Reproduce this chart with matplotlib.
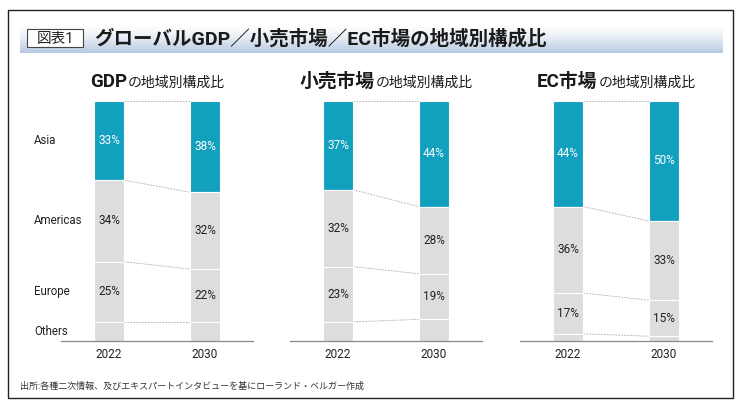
import numpy as np
import matplotlib.pyplot as plt
from matplotlib.patches import Rectangle

plt.rcParams['font.family'] = ['Roboto', 'Noto Sans CJK JP', 'DejaVu Sans']

W, H = 740, 407

regions = ["Asia", "Americas", "Europe", "Others"]
years = ["2022", "2030"]
panel_heads = ["GDP", "小売市場", "EC市場"]
panel_tail = "の地域別構成比"
# share by region, [2022, 2030]
gdp = {"Asia": [33, 38], "Americas": [34, 32], "Europe": [25, 22], "Others": [8, 8]}
retail = {"Asia": [37, 44], "Americas": [32, 28], "Europe": [23, 19], "Others": [8, 9]}
ec = {"Asia": [44, 50], "Americas": [36, 33], "Europe": [17, 15], "Others": [3, 2]}
panels = [gdp, retail, ec]

title = "グローバルGDP／小売市場／EC市場の地域別構成比"
fig_no = "図表1"
source = "出所:各種二次情報、及びエキスパートインタビューを基にローランド・ベルガー作成"

teal = "#12a0bf"
grey = "#dcdddf"

fig = plt.figure(figsize=(W / 100, H / 100), dpi=100)
fig.patch.set_facecolor("white")

# outer frame
frame = fig.add_axes([0, 0, 1, 1])
frame.set_xlim(0, W)
frame.set_ylim(H, 0)
frame.axis("off")
frame.add_patch(Rectangle((8, 10), 725, 388, fill=False, ec="#222222", lw=1.0))
# gradient title band
grad = np.linspace(0, 1, 50).reshape(-1, 1)
c0 = np.array([1.0, 1.0, 1.0])
c1 = np.array([0.72, 0.79, 0.88])
img = c0 + (c1 - c0) * grad[..., None] ** 1.3
frame.imshow(img, extent=(20, 723, 53, 25), aspect="auto", zorder=1)
frame.add_patch(Rectangle((27, 29), 56, 18, fc="white", ec="#444444", lw=0.8, zorder=2))
frame.text(55, 38.5, fig_no, ha="center", va="center", fontsize=10.5, color="#222222", zorder=3)
frame.text(94, 38.5, title, ha="left", va="center", fontsize=14, fontweight="bold",
           color="#1a1a1a", zorder=3)
frame.text(20, 386, source, ha="left", va="center", fontsize=6.5, color="#333333")

axes_left = [61, 290, 520]
bar_w = 0.32
for k, data in enumerate(panels):
    l = axes_left[k]
    ax = fig.add_axes([l / W, (H - 341) / H, 192 / W, 240 / H])
    ax.set_xlim(-0.5, 1.5)
    ax.set_ylim(0, 100)
    for s in ["top", "left", "right"]:
        ax.spines[s].set_visible(False)
    ax.spines["bottom"].set_color("#8a8a8a")
    ax.spines["bottom"].set_linewidth(0.9)
    ax.set_yticks([])
    ax.set_xticks([0, 1])
    ax.set_xticklabels(years, fontsize=8.5, color="#222222")
    ax.tick_params(axis="x", length=0, pad=5)

    tops = [100, 100]
    bounds = [[100], [100]]
    for r in regions:
        vals = data[r]
        for j in range(2):
            bottom = tops[j] - vals[j]
            ax.bar(j, vals[j], bottom=bottom, width=bar_w,
                   color=teal if r == "Asia" else grey, ec="white", lw=0.8, zorder=2)
            if r != "Others":
                ax.text(j, bottom + vals[j] / 2, f"{vals[j]}%", ha="center", va="center",
                        fontsize=8.5, color="white" if r == "Asia" else "#222222", zorder=3)
            tops[j] = bottom
            bounds[j].append(bottom)
        if k == 0:
            ax.text(-0.78, tops[0] + vals[0] / 2, r, ha="left", va="center",
                    fontsize=8.3, color="#222222", clip_on=False)
    for y0, y1 in zip(bounds[0][:-1], bounds[1][:-1]):
        ax.plot([bar_w / 2, 1 - bar_w / 2], [y0, y1], color="#a8a8a8", lw=0.6,
                ls=(0, (2, 1.5)), zorder=1)

    # two-part panel heading
    t1 = fig.text(0, 1 - 87 / H, panel_heads[k], ha="left", va="baseline",
                  fontsize=13.5, fontweight="bold", color="#1a1a1a")
    t2 = fig.text(0, 1 - 87 / H, panel_tail, ha="left", va="baseline",
                  fontsize=10, color="#1a1a1a")
    fig.canvas.draw()
    rend = fig.canvas.get_renderer()
    w1 = t1.get_window_extent(rend).width
    w2 = t2.get_window_extent(rend).width
    center = ax.transData.transform((0.5, 0))[0]
    start = center - (w1 + w2) / 2
    t1.set_x(start / W)
    t2.set_x((start + w1 + 1) / W)

fig.savefig("out.png", dpi=100)
